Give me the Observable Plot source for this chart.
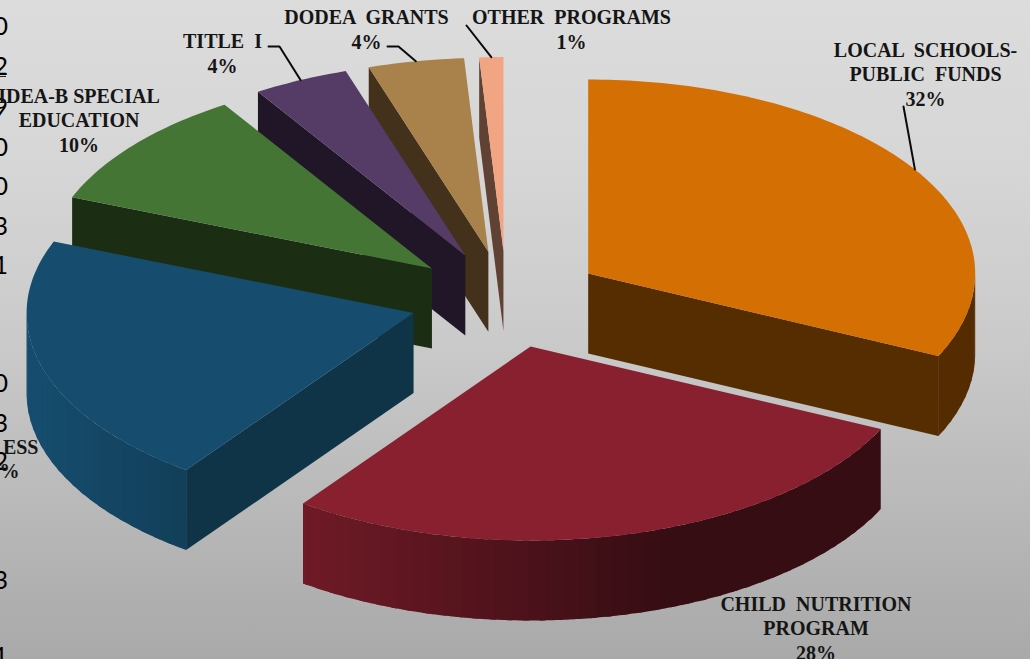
<!DOCTYPE html>
<html>
<head>
<meta charset="utf-8">
<style>
  html, body { margin: 0; padding: 0; background: #cccccc; overflow: hidden; }
</style>
<script src="https://cdn.jsdelivr.net/npm/d3@7"></script>
<script src="https://cdn.jsdelivr.net/npm/@observablehq/plot@0.6"></script>
</head>
<body>
<script>
// Revenue sources, clockwise from twelve o'clock
const categories = ["LOCAL  SCHOOLS-\nPUBLIC  FUNDS", "CHILD  NUTRITION\nPROGRAM", "", "IDEA-B SPECIAL\nEDUCATION", "TITLE  I", "DODEA  GRANTS", "OTHER  PROGRAMS"];
const shares = [32, 28, 21, 10, 4, 4, 1];
const topColors = ["#d46f04", "#88202f", "#164d6e", "#447535", "#543c66", "#a8824a", "#f2a582"];
const sideColors = ["#552d00", "#360b12", "#0f3347", "#1b2e14", "#201628", "#43311c", "#5f4234"];

// Label placement: centre x and baseline of the last line
const labelX = [925, 815.5, null, 78.5, 222, 366, 571];
const labelY = [105, 659, null, 151, 72, 48, 48];

// Leader stubs running from a label toward its slice's rim
const leaderStubs = [[[903, 106]], [], [], [], [[268, 46], [279, 46]], [[387, 46], [398, 46]], [[466, 25]]];

// Row-end digits from the neighbouring table, cut by the left edge
const edgeDigits = ["0", "2", "9", "0", "0", "3", "1", "0", "3", "2", "3", "1"];
const edgeDigitY = [34, 74, 115, 155, 194, 234, 273, 391, 431, 469, 588, 664];

// Projection of the tilted pie
const cx = 506, cy = 299, rx = 387, ry = 194, depth = 80, explode = 0.25, bandDeg = 2.5, bandOverlap = 1;

const total = d3.sum(shares);
const rad = (deg) => (deg * Math.PI) / 180;
const rim = (a, deg, lift = 0) => ({x: a.x + rx * Math.sin(rad(deg)), y: a.y - ry * Math.cos(rad(deg)) + lift});

// Darkening of the curved wall as it turns away from the light on the left
const wallShade = (base, deg) => {
  const k = Math.min(1, 0.4 + Math.max(0, 0.34 - Math.sin(rad(deg))) * 0.45);
  const c = d3.rgb(base);
  return d3.rgb(c.r * k, c.g * k, c.b * k).formatHex();
};

let running = 0;
const slices = shares.map((share, i) => {
  const start = (running / total) * 360;
  running += share;
  const end = (running / total) * 360;
  const mid = (start + end) / 2;
  const apex = rim({x: cx, y: cy}, mid);
  const pull = {x: cx + explode * (apex.x - cx), y: cy + explode * (apex.y - cy)};
  return {i, share, start, end, mid, apex: pull, name: categories[i]};
});

// Facets of every slice, back to front, as closed vertex lists
const vertices = [];
const addFacet = (id, color, pts) => pts.forEach((p) => vertices.push({id, color, x: p.x, y: p.y}));

slices.slice().sort((a, b) => a.apex.y - b.apex.y).forEach((s) => {
  const side = sideColors[s.i];
  const top = topColors[s.i];
  const a = s.apex;
  const lower = {x: a.x, y: a.y + depth};
  if (Math.sin(rad(s.start)) < -1e-6) {
    addFacet(`${s.i}-start`, side, [a, rim(a, s.start), rim(a, s.start, depth), lower]);
  }
  if (Math.sin(rad(s.end)) > 1e-6) {
    addFacet(`${s.i}-end`, side, [a, rim(a, s.end), rim(a, s.end, depth), lower]);
  }
  // Curved wall in vertical bands; each band runs under the next so no seam shows
  const from = Math.max(s.start, 90), to = Math.min(s.end, 270);
  let n = 0;
  for (let d = from; d < to; d += bandDeg, n++) {
    const e = Math.min(d + bandDeg, to);
    const over = Math.min(e + bandOverlap, to);
    const quad = [rim(a, d)];
    for (let t = d + 0.5; t < over; t += 0.5) quad.push(rim(a, t));
    quad.push(rim(a, over));
    quad.push(rim(a, over, depth));
    for (let t = over - 0.5; t > d; t -= 0.5) quad.push(rim(a, t, depth));
    quad.push(rim(a, d, depth));
    addFacet(`${s.i}-wall-${n}`, wallShade(top, (d + e) / 2), quad);
  }
  const face = [a];
  for (let d = s.start; d < s.end; d += 1) face.push(rim(a, d));
  face.push(rim(a, s.end));
  addFacet(`${s.i}-top`, top, face);
});

// Leader lines end where each slice's bisector meets its rim
const leaders = [];
slices.forEach((s) => {
  if (!leaderStubs[s.i].length) return;
  leaderStubs[s.i].forEach(([x, y]) => leaders.push({id: s.i, x, y}));
  const tip = rim(s.apex, s.mid);
  leaders.push({id: s.i, x: tip.x, y: tip.y});
});

const labels = slices
  .filter((s) => s.name)
  .map((s) => ({text: `${s.name}\n${s.share}%`, x: labelX[s.i], y: labelY[s.i]}));

const serif = {fontFamily: "Liberation Serif", fontWeight: "bold", fontSize: 20, fill: "#151515", lineHeight: 1.225, lineAnchor: "bottom"};

const chart = Plot.plot({
  width: 1030,
  height: 659,
  margin: 0,
  x: {domain: [0, 1030], range: [0, 1030], axis: null},
  y: {domain: [0, 659], range: [0, 659], axis: null},
  color: {type: "identity"},
  style: {background: "linear-gradient(180deg, #dcdcdc 0%, #d6d6d6 25%, #cbcbcb 50%, #bababa 75%, #a9a9a9 100%)", overflow: "hidden"},
  marks: [
    Plot.text(edgeDigits, {
      text: (d) => d,
      x: () => 7.5,
      y: (d, i) => edgeDigitY[i],
      textAnchor: "end",
      lineAnchor: "bottom",
      fontFamily: "Lato",
      fontSize: 25,
      fill: "#000000"
    }),
    Plot.ruleY([76], {x1: 0, x2: 6, stroke: "#222222", strokeWidth: 1}),
    Plot.line(vertices, {x: "x", y: "y", z: "id", fill: "color", curve: "linear-closed"}),
    Plot.line(leaders, {x: "x", y: "y", z: "id", stroke: "#0a0a0a", strokeWidth: 2, curve: "linear"}),
    Plot.text(labels, {text: "text", x: "x", y: "y", textAnchor: "middle", ...serif}),
    // The fourth label runs off the left edge
    Plot.text(["ESS"], {text: (d) => d, x: () => 38, y: () => 453, textAnchor: "end", ...serif}),
    Plot.text([shares[2]], {text: (d) => `${d}%`, x: () => -1, y: () => 477, textAnchor: "middle", ...serif})
  ]
});
document.body.appendChild(chart);
</script>
</body>
</html>
